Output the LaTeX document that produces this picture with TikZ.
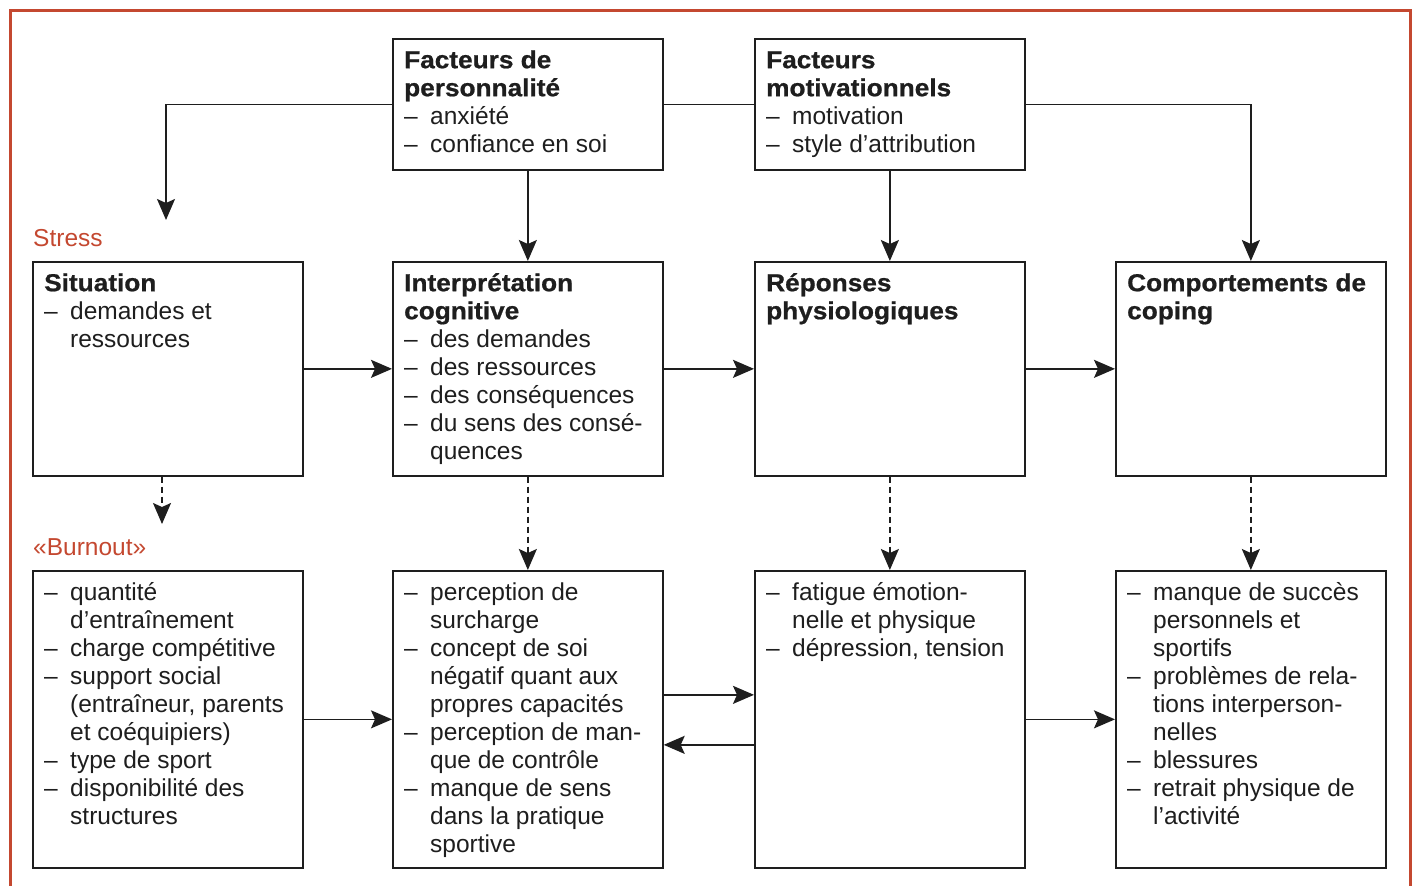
\documentclass[tikz,border=0pt]{standalone}
\usepackage{fontspec}
\setmainfont{Liberation Sans}
\newfontfamily\hdfont{Liberation Sans}[FakeStretch=1.07,FakeBold=0.8]
\usetikzlibrary{arrows.meta}
\definecolor{frame}{RGB}{196,72,48}
\definecolor{ink}{RGB}{30,30,30}
\newcommand\hd[1]{{\hdfont\bfseries #1}}
\newcommand\li{\makebox[26pt][l]{–}}
\newcommand\ct{\hspace*{26pt}}
\newcommand\fs{\rule{0pt}{20pt}}
\tikzset{
  tipstyle/.tip={Stealth[length=21pt,width=18pt,inset=4pt]},
  box/.style={draw=ink, line width=1.7pt, minimum width=270pt, anchor=north west, inner sep=0},
  txt/.style={anchor=north west, inner sep=0, align=left, font=\fontsize{24.5}{28}\selectfont, text=ink},
  arr/.style={draw=ink, line width=1.7pt, -tipstyle},
  dsh/.style={arr, dash pattern=on 6pt off 4pt},
  lab/.style={anchor=base west, inner sep=0, text=frame, font=\fontsize{24.5}{28}\selectfont},
  lnk/.style={draw=ink, line width=1.7pt}
}
\begin{document}
\begin{tikzpicture}[x=1pt,y=-1pt]
\useasboundingbox (0,0) rectangle (1416,886);
\draw[frame, line width=3pt] (10,886) -- (10,10) -- (1410,10) -- (1410,886);

% top row
\node[box, minimum height=131pt] (fp) at (392,38) {};
\node[box, minimum height=131pt] (fm) at (754,38) {};
% middle row
\node[box, minimum height=214pt] (si) at (32,261) {};
\node[box, minimum height=214pt] (ic) at (392,261) {};
\node[box, minimum height=214pt] (rp) at (754,261) {};
\node[box, minimum height=214pt] (co) at (1115,261) {};
% bottom row
\node[box, minimum height=297pt] (bsi) at (32,570) {};
\node[box, minimum height=297pt] (bic) at (392,570) {};
\node[box, minimum height=297pt] (brp) at (754,570) {};
\node[box, minimum height=297pt] (bco) at (1115,570) {};

% texts
\node[txt] (tfp) at (404,48) {\fs\hd{Facteurs de}\\ \hd{personnalité}\\ \li anxiété\\ \li confiance en soi};
\node[txt] (tfm) at (766,48) {\fs\hd{Facteurs}\\ \hd{motivationnels}\\ \li motivation\\ \li style d’attribution};
\node[txt] (tsi) at (44,271) {\fs\hd{Situation}\\ \li demandes et\\ \ct ressources};
\node[txt] (tic) at (404,271) {\fs\hd{Interprétation}\\ \hd{cognitive}\\ \li des demandes\\ \li des ressources\\ \li des conséquences\\ \li du sens des consé-\\ \ct quences};
\node[txt] (trp) at (766,271) {\fs\hd{Réponses}\\ \hd{physiologiques}};
\node[txt] (tco) at (1127,271) {\fs\hd{Comportements de}\\ \hd{coping}};

\node[txt] (tbsi) at (44,580) {\fs\li quantité\\ \ct d’entraînement\\ \li charge compétitive\\ \li support social\\ \ct (entraîneur, parents\\ \ct et coéquipiers)\\ \li type de sport\\ \li disponibilité des\\ \ct structures};
\node[txt] (tbic) at (404,580) {\fs\li perception de\\ \ct surcharge\\ \li concept de soi\\ \ct négatif quant aux\\ \ct propres capacités\\ \li perception de man-\\ \ct que de contrôle\\ \li manque de sens\\ \ct dans la pratique\\ \ct sportive};
\node[txt] (tbrp) at (766,580) {\fs\li fatigue émotion-\\ \ct nelle et physique\\ \li dépression, tension};
\node[txt] (tbco) at (1127,580) {\fs\li manque de succès\\ \ct personnels et\\ \ct sportifs\\ \li problèmes de rela-\\ \ct tions interperson-\\ \ct nelles\\ \li blessures\\ \li retrait physique de\\ \ct l’activité};

% labels
\node[lab] (stress) at (33,246) {Stress};
\node[lab] (burn) at (33,555) {«Burnout»};

% connectors
\coordinate (c1) at (166,220);
\coordinate (c3) at (162,524);
\draw[arr] (fp.west) -| (c1);
\draw[lnk] (fp.east) -- (fm.west);
\draw[arr] (fm.east) -| (co.north);
\draw[arr] (fp.south) -- (ic.north);
\draw[arr] (fm.south) -- (rp.north);
\draw[arr] (si.east) -- (ic.west);
\draw[arr] (ic.east) -- (rp.west);
\draw[arr] (rp.east) -- (co.west);
\draw[dsh] (si.south -| c3) -- (c3);
\draw[dsh] (ic.south) -- (bic.north);
\draw[dsh] (rp.south) -- (brp.north);
\draw[dsh] (co.south) -- (bco.north);
\draw[arr] (bsi.east) -- (bic.west);
\draw[arr] ([yshift=24.5pt]bic.east) -- ([yshift=24.5pt]brp.west);
\draw[arr] ([yshift=-25.5pt]brp.west) -- ([yshift=-25.5pt]bic.east);
\draw[arr] (brp.east) -- (bco.west);
\end{tikzpicture}
\end{document}
